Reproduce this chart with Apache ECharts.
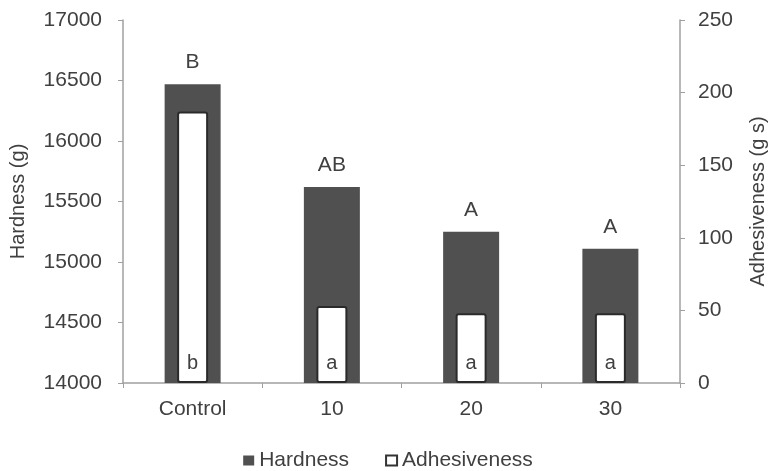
<!DOCTYPE html>
<html lang="en">
<head>
  <meta charset="UTF-8">
  <title>Hardness and Adhesiveness</title>
  <script src="https://cdn.jsdelivr.net/npm/echarts@6/dist/echarts.min.js"></script>
  <style>
    body { margin: 0; background: #fff; }
  </style>
</head>
<body>
  <div id="main" style="width: 776px;height:471px"></div>
  <script>
    // data
    var categories = ['Control', '10', '20', '30'];
    var hardness = [16470, 15620, 15250, 15110];
    var adhesiveness = [187, 53, 48, 48];
    var hardnessLetters = ['B', 'AB', 'A', 'A'];
    var adhesivenessLetters = ['b', 'a', 'a', 'a'];

    var textColor = '#404040';
    var lineColor = '#a0a0a0';
    var font = 'Liberation Sans, Arial, sans-serif';

    var myChart = echarts.init(document.getElementById('main'));

    // plain numbers, no thousands separator
    function plain(v) {
      return String(v);
    }

    var option = {
      animation: false,
      textStyle: { fontFamily: font },
      grid: { left: 121, right: 91, top: 20, bottom: 88 },
      legend: {
        bottom: 0,
        padding: 0,
        left: 'center',
        itemWidth: 11,
        itemHeight: 10,
        itemGap: 36,
        textStyle: { fontSize: 21, color: textColor, fontFamily: font },
        data: [
          { name: 'Hardness', icon: 'rect', itemStyle: { color: '#505050', borderWidth: 0 } },
          { name: 'Adhesiveness', icon: 'rect', itemStyle: { color: '#fff', borderColor: '#333', borderWidth: 2 } }
        ]
      },
      xAxis: [
        {
          type: 'category',
          data: categories,
          axisLine: { lineStyle: { color: lineColor, width: 1.5 } },
          axisTick: { show: true, length: 5, lineStyle: { color: lineColor } },
          axisLabel: { color: textColor, fontSize: 21, margin: 16 }
        },
        {
          type: 'category',
          data: categories,
          show: false
        }
      ],
      yAxis: [
        {
          type: 'value',
          min: 14000,
          max: 17000,
          interval: 500,
          name: 'Hardness (g)',
          nameLocation: 'middle',
          nameGap: 95,
          nameTextStyle: { fontSize: 20, color: textColor },
          splitLine: { show: false },
          axisLine: { show: true, lineStyle: { color: lineColor, width: 1.5 } },
          axisTick: { show: true, length: 5, lineStyle: { color: lineColor } },
          axisLabel: { color: textColor, fontSize: 21, margin: 21, formatter: plain }
        },
        {
          type: 'value',
          min: 0,
          max: 250,
          interval: 50,
          name: 'Adhesiveness (g s)',
          nameLocation: 'middle',
          nameGap: 68,
          nameTextStyle: { fontSize: 20, color: textColor },
          splitLine: { show: false },
          axisLine: { show: true, lineStyle: { color: lineColor, width: 1.5 } },
          axisTick: { show: true, length: 5, lineStyle: { color: lineColor } },
          axisLabel: { color: textColor, fontSize: 21, margin: 18, formatter: plain }
        }
      ],
      series: [
        {
          name: 'Hardness',
          type: 'bar',
          xAxisIndex: 0,
          yAxisIndex: 0,
          barWidth: 56,
          data: hardness,
          itemStyle: { color: '#505050' },
          label: {
            show: true,
            position: 'top',
            distance: 11,
            color: textColor,
            fontSize: 21,
            formatter: function (arg) {
              return hardnessLetters[arg.dataIndex];
            }
          }
        },
        {
          name: 'Adhesiveness',
          type: 'bar',
          xAxisIndex: 1,
          yAxisIndex: 1,
          barWidth: 31,
          data: adhesiveness,
          itemStyle: { color: '#fff', borderColor: '#2a2a2a', borderWidth: 2, borderRadius: 2 },
          label: {
            show: true,
            position: 'insideBottom',
            distance: 10,
            color: textColor,
            fontSize: 20,
            formatter: function (arg) {
              return adhesivenessLetters[arg.dataIndex];
            }
          }
        }
      ]
    };

    myChart.setOption(option);
  </script>
</body>
</html>
